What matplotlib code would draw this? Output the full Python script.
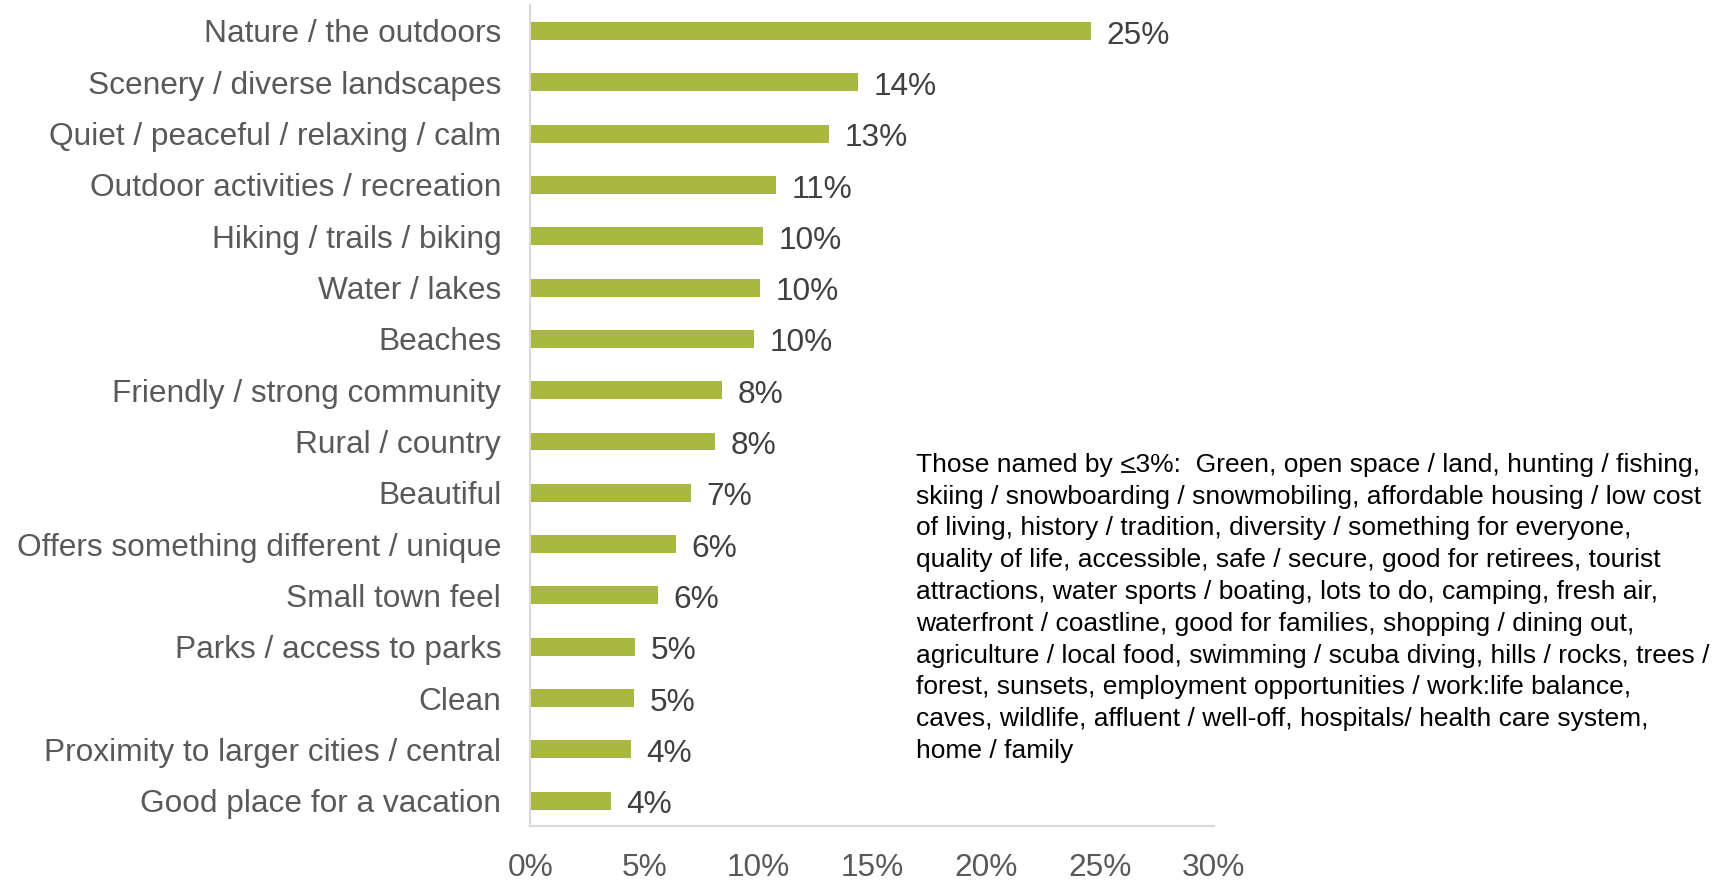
import matplotlib.pyplot as plt
from matplotlib.lines import Line2D

plt.rcParams['font.family'] = ['Liberation Sans', 'DejaVu Sans']

categories = [
    "Nature / the outdoors",
    "Scenery / diverse landscapes",
    "Quiet / peaceful / relaxing / calm",
    "Outdoor activities / recreation",
    "Hiking / trails / biking",
    "Water / lakes",
    "Beaches",
    "Friendly / strong community",
    "Rural / country",
    "Beautiful",
    "Offers something different / unique",
    "Small town feel",
    "Parks / access to parks",
    "Clean",
    "Proximity to larger cities / central",
    "Good place for a vacation",
]
shares = [24.6, 14.4, 13.1, 10.8, 10.2, 10.1, 9.8, 8.4, 8.1, 7.05,
          6.4, 5.6, 4.6, 4.55, 4.4, 3.55]
x_ticks = [0, 5, 10, 15, 20, 25, 30]

note_prefix = "Those named by "
others_note = (
    note_prefix + "<3%:  Green, open space / land, hunting / fishing,\n"
    "skiing / snowboarding / snowmobiling, affordable housing / low cost\n"
    "of living, history / tradition, diversity / something for everyone,\n"
    "quality of life, accessible, safe / secure, good for retirees, tourist\n"
    "attractions, water sports / boating, lots to do, camping, fresh air,\n"
    "waterfront / coastline, good for families, shopping / dining out,\n"
    "agriculture / local food, swimming / scuba diving, hills / rocks, trees /\n"
    "forest, sunsets, employment opportunities / work:life balance,\n"
    "caves, wildlife, affluent / well-off, hospitals/ health care system,\n"
    "home / family"
)

bar_color = '#A8B840'
label_gray = '#595959'
axis_gray = '#D9D9D9'

fig = plt.figure(figsize=(17.33, 8.81), dpi=100)
ax = fig.add_axes([0.306, 0.062, 0.3945, 0.932])

pos = list(range(len(categories)))
ax.barh(pos, shares, height=0.35, color=bar_color)
for y, v in zip(pos, shares):
    ax.text(v + 0.68, y + 0.09, f"{v:.0f}%", va='center', ha='left',
            fontsize=22.8, color='#404040')

ax.set_ylim(len(categories) - 0.5, -0.5)
ax.set_xlim(0, 30)
ax.set_yticks(pos)
ax.set_yticklabels(categories, fontsize=22.8, color=label_gray)
ax.set_xticks(x_ticks)
ax.set_xticklabels([f"{t}%" for t in x_ticks], fontsize=22.8, color=label_gray)
ax.tick_params(axis='y', length=0, pad=21)
ax.tick_params(axis='x', length=0, pad=19)

for side in ('top', 'right'):
    ax.spines[side].set_visible(False)
for side in ('left', 'bottom'):
    ax.spines[side].set_color(axis_gray)
    ax.spines[side].set_linewidth(1.5)

note_x, note_y = 0.5286, 0.486
note_font = dict(fontsize=19, color='black')
fig.text(note_x, note_y, others_note, ha='left', va='top',
         linespacing=1.41, **note_font)

# underline the "<" so it reads as "less than or equal"
renderer = fig.canvas.get_renderer()
probe = fig.text(note_x, note_y, note_prefix + "<", va='top', **note_font)
probe_pre = fig.text(note_x, note_y, note_prefix.rstrip() + " ", va='top', **note_font)
bb_all = probe.get_window_extent(renderer)
bb_pre = probe_pre.get_window_extent(renderer)
probe.remove()
probe_pre.remove()
x0 = bb_pre.x1 / fig.bbox.width + 0.001
x1 = bb_all.x1 / fig.bbox.width - 0.0005
uy = (bb_all.y0 + 0.22 * bb_all.height) / fig.bbox.height
fig.add_artist(Line2D([x0, x1], [uy, uy], color='black', linewidth=1.3,
                      transform=fig.transFigure))

fig.savefig('out.png', dpi=100)
